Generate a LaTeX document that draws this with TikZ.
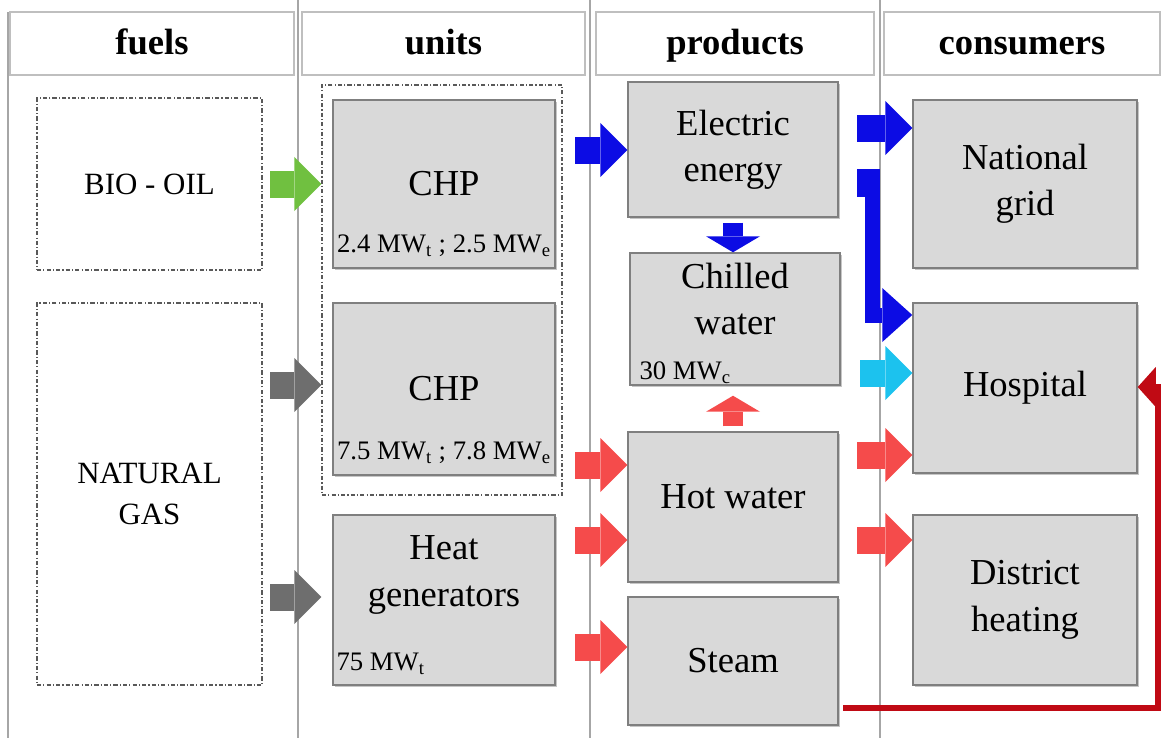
\documentclass[tikz,border=0pt]{standalone}
\usepackage{fontspec}
\setmainfont{Liberation Serif}
\usetikzlibrary{arrows.meta, positioning, calc, shadows}
\definecolor{BoxFill}{HTML}{D9D9D9}
\definecolor{BoxLine}{HTML}{7F7F7F}
\definecolor{HdrLine}{HTML}{BFBFBF}
\definecolor{SepLine}{HTML}{A6A6A6}
\definecolor{FrameLine}{HTML}{595959}
\definecolor{CGreen}{HTML}{70C040}
\definecolor{CGray}{HTML}{6E6E6E}
\definecolor{CBlue}{HTML}{0C0CE4}
\definecolor{CCyan}{HTML}{1CC2EE}
\definecolor{CRed}{HTML}{F54B4B}
\definecolor{CDarkRed}{HTML}{C00A14}

\begin{document}
\begin{tikzpicture}[x=0.025cm, y=-0.025cm,
    hdr/.style={draw=HdrLine, fill=white, line width=0.8pt, minimum height=1.575cm, inner sep=0pt, text height=0.66cm, text depth=0.12cm, font=\fontsize{26}{30}\selectfont\bfseries},
    unitbox/.style={draw=BoxLine, fill=BoxFill, line width=1pt, inner sep=0pt, align=center, font=\fontsize{26}{33}\selectfont, drop shadow={shadow xshift=1.5pt, shadow yshift=-1.5pt, opacity=0.45}},
    frame/.style={draw=FrameLine, line width=0.8pt, dash pattern=on 3pt off 1.5pt on 0.8pt off 1.5pt, inner sep=0pt, align=center, font=\fontsize{22}{29}\selectfont},
    maintxt/.style={align=center, inner sep=0pt, font=\fontsize{26}{33}\selectfont},
    subtxt/.style={inner sep=0pt, font=\fontsize{19}{22}\selectfont},
    sepline/.style={draw=SepLine, line width=1pt},
    flow/.style={line width=0.675cm, -{Triangle[width=1.35cm, length=0.675cm, line width=0pt]}},
    flowv/.style={line width=0.5cm, -{Triangle[width=1.35cm, length=0.4cm, line width=0pt]}},
    flowL/.style={line width=0.375cm, -{Triangle[width=1.35cm, length=0.75cm, line width=0pt]}},
    retflow/.style={line width=0.15cm, -{Triangle[width=1cm, length=0.45cm, line width=0pt]}}]
    \useasboundingbox (0,0) rectangle (1164,738);

    % --- COLUMNS ---
    \draw[sepline] (8,12) -- (8,738);
    \draw[sepline] (298,0) -- (298,738);
    \draw[sepline] (590,0) -- (590,738);
    \draw[sepline] (880,0) -- (880,738);
    \node[hdr, minimum width=7.1cm] (hfuel) at (152,43.5) {fuels};
    \node[hdr, minimum width=7.075cm] (hunit) at (443.5,43.5) {units};
    \node[hdr, minimum width=6.95cm] (hprod) at (735,43.5) {products};
    \node[hdr, minimum width=6.9cm] (hcons) at (1022,43.5) {consumers};

    % --- FUELS ---
    \node[frame, minimum width=5.625cm, minimum height=4.3cm] (bio) at (149.5,184) {BIO - OIL};
    \node[frame, minimum width=5.625cm, minimum height=9.55cm] (gas) at (149.5,494) {NATURAL\\GAS};

    % --- UNITS ---
    \node[frame, minimum width=6cm, minimum height=10.25cm] (grp) at (442,290) {};
    \node[unitbox, minimum width=5.55cm, minimum height=4.2cm] (chp1) at (444,184) {CHP};
    \node[subtxt, anchor=center] (chp1v) at ([yshift=0.575cm]chp1.south) {2.4 MW\textsubscript{t} ; 2.5 MW\textsubscript{e}};
    \node[unitbox, minimum width=5.55cm, minimum height=4.3cm] (chp2) at (444,389) {CHP};
    \node[subtxt, anchor=center] (chp2v) at ([yshift=0.575cm]chp2.south) {7.5 MW\textsubscript{t} ; 7.8 MW\textsubscript{e}};
    \node[unitbox, minimum width=5.55cm, minimum height=4.25cm] (heat) at (444,600) {};
    \node[maintxt] (heatt) at ([yshift=0.625cm]heat.center) {Heat\\generators};
    \node[subtxt, anchor=west] (heatv) at ([xshift=0.1cm, yshift=0.55cm]heat.south west) {75 MW\textsubscript{t}};

    % --- PRODUCTS ---
    \node[unitbox, minimum width=5.25cm, minimum height=3.375cm] (elec) at (733,149.5) {Electric\\energy};
    \node[unitbox, minimum width=5.25cm, minimum height=3.3cm] (chill) at (735,319) {};
    \node[maintxt] (chillt) at ([yshift=0.5cm]chill.center) {Chilled\\water};
    \node[subtxt, anchor=west] (chillv) at ([xshift=0.25cm, yshift=0.325cm]chill.south west) {30 MW\textsubscript{c}};
    \node[unitbox, minimum width=5.25cm, minimum height=3.75cm] (hot) at (733,507) {};
    \node[maintxt] (hott) at ([yshift=0.25cm]hot.center) {Hot water};
    \node[unitbox, minimum width=5.25cm, minimum height=3.2cm] (steam) at (733,661) {Steam};

    % --- CONSUMERS ---
    \node[unitbox, minimum width=5.6cm, minimum height=4.2cm] (grid) at (1025,184) {National\\grid};
    \node[unitbox, minimum width=5.6cm, minimum height=4.25cm] (hosp) at (1025,388) {Hospital};
    \node[unitbox, minimum width=5.6cm, minimum height=4.25cm] (dist) at (1025,600) {District\\heating};

    % fuels -> units
    \coordinate (f1) at (270,184);
    \coordinate (f2) at (270,385);
    \coordinate (f3) at (270,597);
    \draw[flow, CGreen] (f1) -- (f1 -| grp.west);
    \draw[flow, CGray] (f2) -- (f2 -| grp.west);
    \draw[flow, CGray] (f3) -- (f3 -| grp.west);

    % units -> products
    \coordinate (u1) at (575,150);
    \coordinate (u2) at (575,465);
    \coordinate (u3) at (575,540);
    \coordinate (u4) at (575,647);
    \draw[flow, CBlue] (u1) -- (u1 -| elec.west);
    \draw[flow, CRed] (u2) -- (u2 -| hot.west);
    \draw[flow, CRed] (u3) -- (u3 -| hot.west);
    \draw[flow, CRed] (u4) -- (u4 -| steam.west);
    \draw[flowv, CBlue, shorten <=0.125cm] (elec.south) -- (elec.south |- chill.north);
    \draw[flowv, CRed, shorten <=0.125cm, shorten >=0.25cm] (hot.north) -- (hot.north |- chill.south);

    % products -> consumers
    \coordinate (p1) at (857,128);
    \coordinate (p2) at (860,373);
    \coordinate (p3) at (857,455);
    \coordinate (p4) at (857,540);
    \coordinate (lt) at (872.5,169);
    \coordinate (lb) at (872.5,315);
    \draw[flow, CBlue] (p1) -- (p1 -| grid.west);
    \fill[CBlue] (857,169) rectangle (880,197);
    \draw[flowL, CBlue] (lt) -- (lb) -- (lb -| hosp.west);
    \draw[flow, CCyan] (p2) -- (p2 -| hosp.west);
    \draw[flow, CRed] (p3) -- (p3 -| hosp.west);
    \draw[flow, CRed] (p4) -- (p4 -| dist.west);

    % steam back to hospital
    \coordinate (r0) at (843,708);
    \coordinate (r1) at (1158,387);
    \draw[retflow, CDarkRed] (r0) -| (r1) -- (r1 -| hosp.east);
\end{tikzpicture}
\end{document}
